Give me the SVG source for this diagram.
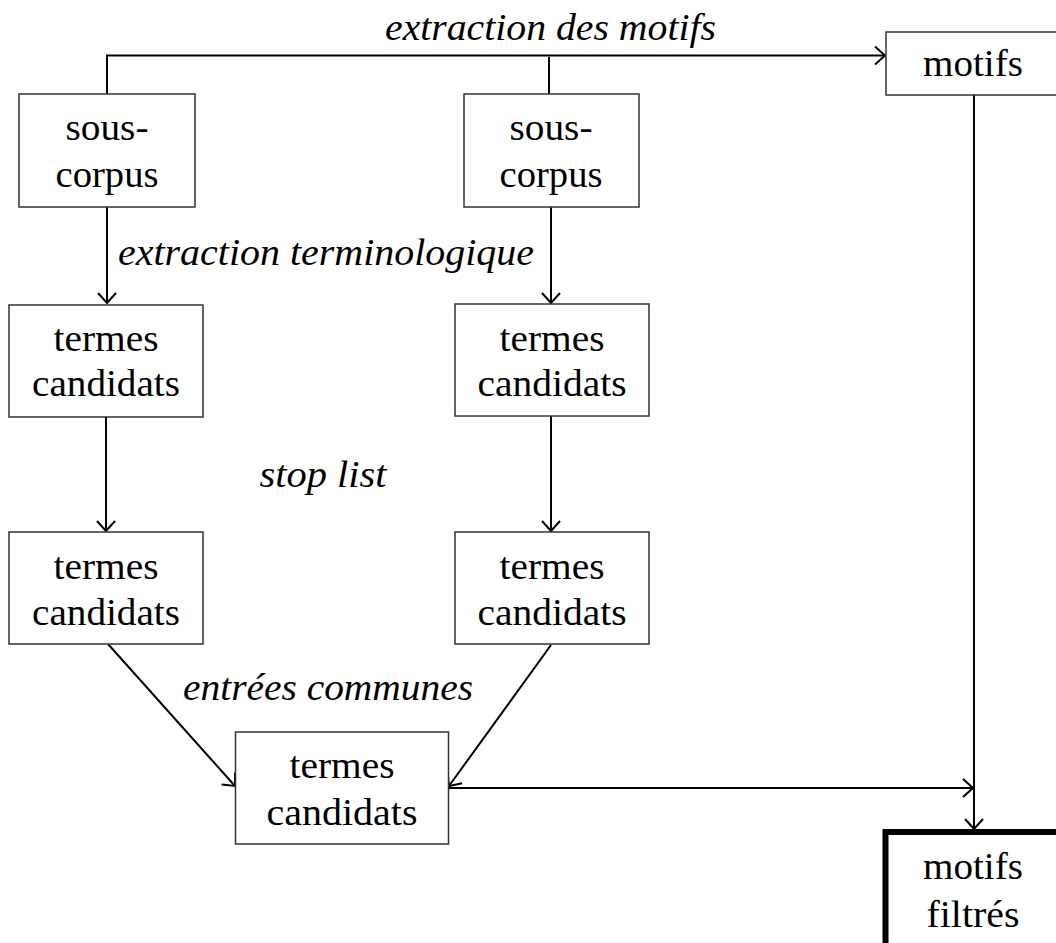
<svg xmlns="http://www.w3.org/2000/svg" width="1056" height="943" viewBox="0 0 1056 943">
<style>
  .box { fill: #ffffff; stroke: #333333; stroke-width: 1.5; }
  .thick { fill: #ffffff; stroke: #000000; stroke-width: 6; }
  .t { font-family: "Liberation Serif", "Times New Roman", serif; font-size: 38px; fill: #000000; text-anchor: middle; }
  .lbl { font-family: "Liberation Serif", "Times New Roman", serif; font-size: 38px; font-style: italic; fill: #000000; text-anchor: middle; }
  .c { fill: none; stroke: #000000; stroke-width: 2; }
</style>
<defs>
  <marker id="arr" viewBox="0 0 12 20" refX="11" refY="10" markerWidth="12" markerHeight="20" markerUnits="userSpaceOnUse" orient="auto">
    <path d="M1,1 L11,10 L1,19" fill="none" stroke="#000000" stroke-width="2"/>
  </marker>
</defs>
<rect width="1056" height="943" fill="#ffffff"/>

<g id="connectors">
  <path class="c" d="M107,94 L107,55.5 L885,55.5" marker-end="url(#arr)"/>
  <path class="c" d="M549,94 L549,57"/>
  <path class="c" d="M107,207 L107,303" marker-end="url(#arr)"/>
  <path class="c" d="M551,207 L551,303" marker-end="url(#arr)"/>
  <path class="c" d="M106,416 L106,531" marker-end="url(#arr)"/>
  <path class="c" d="M551,416 L551,531" marker-end="url(#arr)"/>
  <path class="c" d="M108,644 L235,786" marker-end="url(#arr)"/>
  <path class="c" d="M551,645 L449,786" marker-end="url(#arr)"/>
  <path class="c" d="M449,788 L973,788" marker-end="url(#arr)"/>
  <path class="c" d="M974,95 L974,829" marker-end="url(#arr)"/>
</g>

<g id="labels">
  <text class="lbl" x="550.5" y="40" textLength="331" lengthAdjust="spacingAndGlyphs">extraction des motifs</text>
  <text class="lbl" x="326" y="265" textLength="416" lengthAdjust="spacingAndGlyphs">extraction terminologique</text>
  <text class="lbl" x="323" y="487" textLength="127" lengthAdjust="spacingAndGlyphs">stop list</text>
  <text class="lbl" x="328" y="700" textLength="290" lengthAdjust="spacingAndGlyphs">entrées communes</text>
</g>

<g id="sous-corpus-1">
  <rect class="box" x="19" y="94" width="176" height="113"/>
  <text class="t" x="107" y="140" textLength="83" lengthAdjust="spacingAndGlyphs">sous-</text>
  <text class="t" x="107" y="187" textLength="103" lengthAdjust="spacingAndGlyphs">corpus</text>
</g>
<g id="sous-corpus-2">
  <rect class="box" x="464" y="94" width="175" height="113"/>
  <text class="t" x="551" y="140" textLength="83" lengthAdjust="spacingAndGlyphs">sous-</text>
  <text class="t" x="551" y="187" textLength="103" lengthAdjust="spacingAndGlyphs">corpus</text>
</g>
<g id="motifs">
  <rect class="box" x="886" y="32" width="180" height="63"/>
  <text class="t" x="973" y="76" textLength="100" lengthAdjust="spacingAndGlyphs">motifs</text>
</g>
<g id="termes-1">
  <rect class="box" x="9" y="305" width="194" height="112"/>
  <text class="t" x="106" y="351" textLength="105" lengthAdjust="spacingAndGlyphs">termes</text>
  <text class="t" x="106" y="396" textLength="148" lengthAdjust="spacingAndGlyphs">candidats</text>
</g>
<g id="termes-2">
  <rect class="box" x="455" y="304" width="194" height="112"/>
  <text class="t" x="552" y="351" textLength="105" lengthAdjust="spacingAndGlyphs">termes</text>
  <text class="t" x="552" y="396" textLength="149" lengthAdjust="spacingAndGlyphs">candidats</text>
</g>
<g id="termes-3">
  <rect class="box" x="9" y="532" width="194" height="112"/>
  <text class="t" x="106" y="579" textLength="105" lengthAdjust="spacingAndGlyphs">termes</text>
  <text class="t" x="106" y="625" textLength="148" lengthAdjust="spacingAndGlyphs">candidats</text>
</g>
<g id="termes-4">
  <rect class="box" x="455" y="532" width="194" height="112"/>
  <text class="t" x="552" y="579" textLength="105" lengthAdjust="spacingAndGlyphs">termes</text>
  <text class="t" x="552" y="625" textLength="149" lengthAdjust="spacingAndGlyphs">candidats</text>
</g>
<g id="termes-communs">
  <rect class="box" x="235.5" y="732" width="213" height="112"/>
  <text class="t" x="342" y="778" textLength="105" lengthAdjust="spacingAndGlyphs">termes</text>
  <text class="t" x="342" y="825" textLength="151" lengthAdjust="spacingAndGlyphs">candidats</text>
</g>
<g id="motifs-filtres">
  <rect class="thick" x="885.5" y="832" width="190" height="130"/>
  <text class="t" x="973" y="879" textLength="100" lengthAdjust="spacingAndGlyphs">motifs</text>
  <text class="t" x="973" y="927" textLength="93" lengthAdjust="spacingAndGlyphs">filtrés</text>
</g>
</svg>
